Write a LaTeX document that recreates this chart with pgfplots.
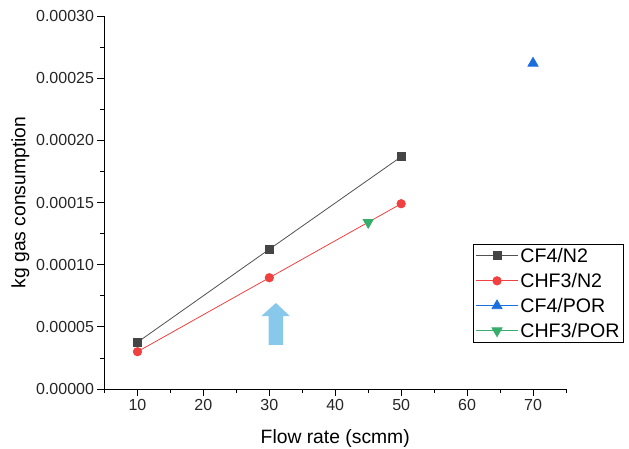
\documentclass[border=0pt]{standalone}
\usepackage{fontspec}
\setmainfont{Liberation Sans}
\usepackage{pgfplots}
\pgfplotsset{compat=1.18}
\usetikzlibrary{calc}
\definecolor{cfn}{HTML}{515151}
\definecolor{chn}{HTML}{F14040}
\definecolor{cfp}{HTML}{1A6FDF}
\definecolor{chp}{HTML}{37AD6B}
\definecolor{arrowc}{HTML}{87C8EB}

\begin{document}
\begin{tikzpicture}
\begin{axis}[
  name=ax,
  scale only axis,
  width=461.5bp, height=373bp,
  xmin=5, xmax=75,
  ymin=0, ymax=0.0003,
  axis x line=bottom, axis y line=left,
  axis line style={-, line width=0.8bp},
  tick align=outside,
  tick style={black, line width=0.8bp},
  major tick length=7bp, minor tick length=4bp,
  xtick={10,20,...,70},
  minor xtick={5,15,...,75},
  ytick={0,0.00005,...,0.0003},
  minor ytick={0.000025,0.000075,...,0.000275},
  scaled y ticks=false,
  yticklabel style={/pgf/number format/.cd, fixed, fixed zerofill, precision=5},
  /pgf/number format/assume math mode=true,
  tick label style={font=\fontsize{16bp}{19bp}\selectfont, text=black!85},
  label style={font=\fontsize{19.3bp}{23bp}\selectfont},
  xlabel={Flow rate (scmm)},
  ylabel={kg gas consumption},
  xlabel style={at={(axis description cs:0.5,-0.145)}, anchor=base},
  ylabel style={at={(axis description cs:-0.182,0.5)}, anchor=center},
  clip=false,
  legend style={at={(rel axis cs:0.799,0.3895)}, anchor=north west,
    font=\fontsize{19.6bp}{22bp}\selectfont, draw=black, line width=0.8bp,
    inner sep=2bp, row sep=5.5bp,
    cells={anchor=west, text height=14bp, text depth=4bp, inner ysep=2bp, inner xsep=3.5bp}},
  legend image code/.code={
    \draw[mark repeat=2, mark phase=2] plot coordinates {(0bp,0bp) (21bp,0bp) (42bp,0bp)};
  },
]
\addplot[color=cfn, line width=0.8bp, mark=square*, mark size=4bp,
  mark options={fill=cfn!85!black, draw=cfn!85!black}]
  coordinates {(10,0.0000376)(30,0.0001124)(50,0.0001868)};
\addlegendentry{CF4/N2}

\addplot[color=chn, line width=0.8bp, mark=*, mark size=4.2bp,
  mark options={fill=chn, draw=chn}]
  coordinates {(10,0.0000300)(30,0.0000895)(50,0.0001490)};
\addlegendentry{CHF3/N2}

\addplot[color=cfp, line width=0.8bp, mark=triangle*, mark size=5.8bp,
  mark options={fill=cfp, draw=cfp}]
  coordinates {(70,0.000262)};
\addlegendentry{CF4/POR}

\addplot[color=chp, line width=0.8bp, mark=triangle*, mark size=5.8bp,
  mark options={fill=chp, draw=chp, rotate=180}]
  coordinates {(45,0.000134)};
\addlegendentry{CHF3/POR}

% blue arrow annotation
\fill[arrowc] (axis cs:29.9,0.0000354) -- (axis cs:32.1,0.0000354)
  -- (axis cs:32.1,0.0000587) -- (axis cs:33.1,0.0000587)
  -- (axis cs:31.0,0.0000692) -- (axis cs:28.8,0.0000587)
  -- (axis cs:29.9,0.0000587) -- cycle;
\end{axis}
\pgfresetboundingbox
\path[use as bounding box] ($(ax.south west)+(-104.5bp,-60bp)$) rectangle ($(ax.south west)+(524.5bp,389bp)$);
\end{tikzpicture}
\end{document}
